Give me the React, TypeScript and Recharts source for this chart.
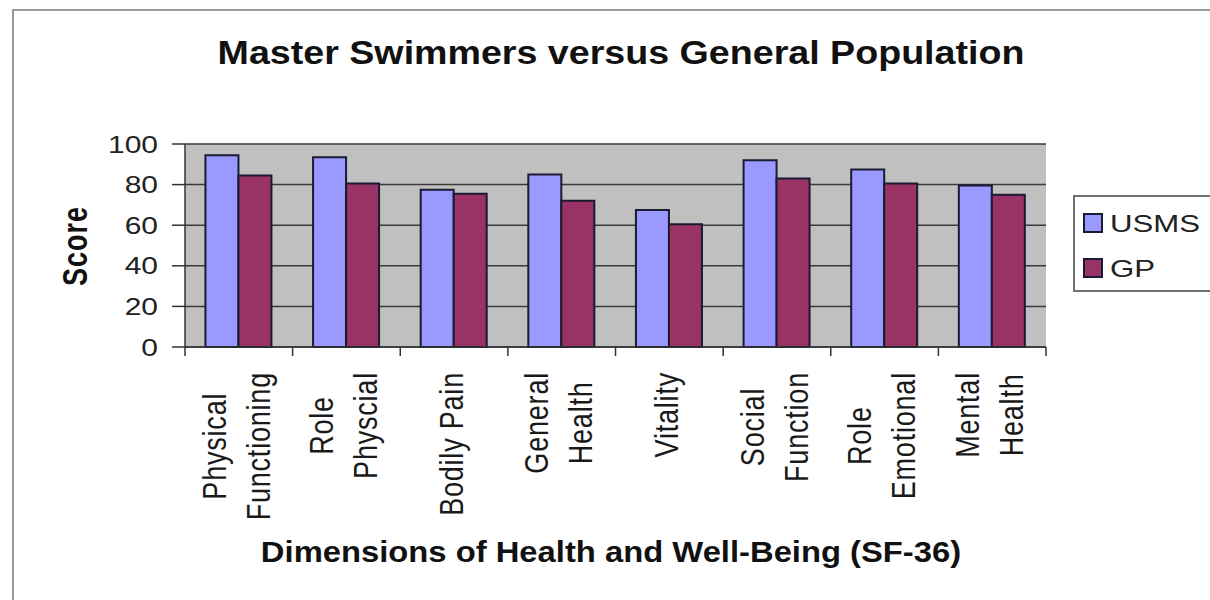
import React from 'react'
import { BarChart, Bar, XAxis, YAxis, CartesianGrid, Legend } from 'recharts'

const categories = [
  'Physical\nFunctioning',
  'Role\nPhyscial',
  'Bodily Pain',
  'General\nHealth',
  'Vitality',
  'Social\nFunction',
  'Role\nEmotional',
  'Mental\nHealth',
]
const usms = [94.5, 93.5, 77.5, 85, 67.5, 92, 87.5, 79.5]
const gp = [84.5, 80.5, 75.5, 72, 60.5, 83, 80.5, 75]
const yTicks = [0, 20, 40, 60, 80, 100]
const seriesOrder = ['USMS', 'GP']

const data = categories.map((name, i) => ({ name, usms: usms[i], gp: gp[i] }))

const FONT = '"Liberation Sans", Arial, sans-serif'

let ctx: CanvasRenderingContext2D | null = null
function textWidth(s: string, font: string, spacing: number) {
  if (!ctx) ctx = document.createElement('canvas').getContext('2d')
  if (!ctx) return s.length * 14
  ctx.font = font
  return ctx.measureText(s).width + spacing * s.length
}

function ScoreTick({ x, y, payload }: any) {
  return (
    <text
      transform={`translate(${x},${y}) scale(1.25,1)`}
      textAnchor="end"
      dy="0.36em"
      fontSize={24}
      fontFamily={FONT}
      fill="#222"
    >
      {payload.value}
    </text>
  )
}

// Excel-style: tick marks between categories, label lines centred on each other
function CategoryTick({ x, y, payload, index, width, visibleTicksCount }: any) {
  const n = visibleTicksCount || categories.length
  const half = (width || 861) / n / 2
  const lines = String(payload.value).split('\n')
  const lens = lines.map(l => textWidth(l, `27px ${FONT}`, 0.8))
  const cy = y + 25 + Math.max(...lens) / 2
  return (
    <g>
      <line x1={x - half} x2={x - half} y1={y} y2={y + 9} stroke="#333" strokeWidth={1.5} />
      {index === n - 1 && (
        <line x1={x + half} x2={x + half} y1={y} y2={y + 9} stroke="#333" strokeWidth={1.5} />
      )}
      {lines.map((l, i) => (
        <text
          key={i}
          transform={`translate(${x + (i - (lines.length - 1) / 2) * 44},${cy}) scale(1.25,1) rotate(-90)`}
          textAnchor="middle"
          dy="0.26em"
          fontSize={27}
          letterSpacing={0.8}
          fontFamily={FONT}
          fill="#1a1a1a"
        >
          {l}
        </text>
      ))}
    </g>
  )
}

function LegendBox({ payload }: any) {
  const items = [...(payload || [])].sort(
    (a: any, b: any) => seriesOrder.indexOf(a.value) - seriesOrder.indexOf(b.value)
  )
  return (
    <svg width={150} height={97} style={{ display: 'block' }}>
      <rect x={1} y={1} width={150} height={95} fill="#fff" stroke="#707070" strokeWidth={2} />
      {items.map((p: any, i: number) => (
        <g key={p.value}>
          <rect x={11} y={19 + i * 45} width={18} height={18} fill={p.color} stroke="#1a1a33" strokeWidth={2} />
          <text
            transform={`translate(37,${37 + i * 45}) scale(1.3,1)`}
            fontSize={24}
            fontFamily={FONT}
            fill="#222"
          >
            {p.value}
          </text>
        </g>
      ))}
    </svg>
  )
}

export default function App() {
  return (
    <div style={{ position: 'absolute', left: 0, top: 0, width: 1210, height: 600, overflow: 'hidden', background: '#fff' }}>
      <div
        style={{
          position: 'absolute', left: 12, top: 9, width: 1400, height: 800,
          border: '2px solid #999', boxSizing: 'border-box',
        }}
      />
      <BarChart
        width={1210}
        height={600}
        data={data}
        margin={{ top: 144, right: 164, bottom: 252, left: 0 }}
        barCategoryGap="19%"
        barGap={0}
      >
        <CartesianGrid vertical={false} fill="#C0C0C0" fillOpacity={1} stroke="#3a3a3a" strokeWidth={1.5} />
        <XAxis
          dataKey="name"
          height={1}
          interval={0}
          tickLine={false}
          tickSize={0}
          tickMargin={0}
          stroke="#333"
          strokeWidth={1.5}
          tick={CategoryTick}
        />
        <YAxis
          width={185}
          domain={[0, 100]}
          ticks={yTicks}
          interval={0}
          tickSize={13}
          tickMargin={14}
          stroke="#333"
          strokeWidth={1.5}
          tick={ScoreTick}
        />
        <YAxis yAxisId="r" orientation="right" width={0} tick={false} tickLine={false} stroke="#888" strokeWidth={1.5} />
        <Legend
          layout="vertical"
          align="center"
          verticalAlign="middle"
          content={LegendBox}
          wrapperStyle={{ left: 1073, top: 195, width: 150, height: 97 }}
        />
        <Bar dataKey="usms" name="USMS" fill="#9999FF" stroke="#1a1a33" strokeWidth={2} isAnimationActive={false} />
        <Bar dataKey="gp" name="GP" fill="#993366" stroke="#1a1a33" strokeWidth={2} isAnimationActive={false} />
      </BarChart>
      <svg width={1210} height={600} style={{ position: 'absolute', left: 0, top: 0, pointerEvents: 'none' }}>
        <text
          transform="translate(621,64) scale(1.14,1)"
          textAnchor="middle"
          fontSize={33}
          fontWeight="bold"
          fontFamily={FONT}
          fill="#111"
        >
          Master Swimmers versus General Population
        </text>
        <text
          transform="translate(74,246) scale(1.3,1) rotate(-90)"
          textAnchor="middle"
          dy="0.36em"
          fontSize={27}
          fontWeight="bold"
          letterSpacing={1}
          fontFamily={FONT}
          fill="#111"
        >
          Score
        </text>
        <text
          transform="translate(611,562) scale(1.13,1)"
          textAnchor="middle"
          fontSize={29}
          fontWeight="bold"
          fontFamily={FONT}
          fill="#111"
        >
          Dimensions of Health and Well-Being (SF-36)
        </text>
      </svg>
    </div>
  )
}
